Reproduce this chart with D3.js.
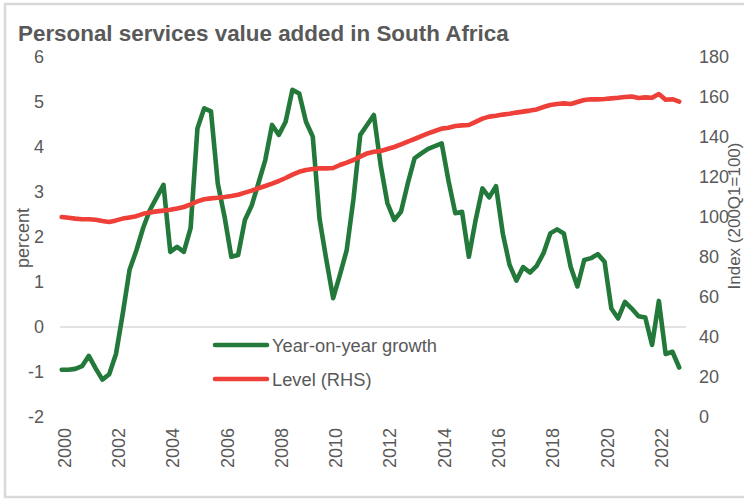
<!DOCTYPE html>
<html>
<head>
<meta charset="utf-8">
<script src="https://cdn.jsdelivr.net/npm/d3@7"></script>
<style>
  html, body { margin: 0; padding: 0; background: #fff; }
  svg { display: block; font-family: "Liberation Sans", Arial, sans-serif; }
</style>
</head>
<body>
<svg id="chart" width="744" height="501"></svg>
<script>
// ---- data (quarterly, 2000Q1 .. 2022Q4) ----
const startYear = 2000;
const yoyGrowth = [
  -0.95, -0.95, -0.93, -0.87, -0.64, -0.92, -1.17, -1.05,
  -0.60, 0.30, 1.27, 1.70, 2.20, 2.60, 2.88, 3.16,
  1.67, 1.78, 1.67, 2.20, 4.41, 4.86, 4.79, 3.19,
  2.45, 1.56, 1.60, 2.38, 2.70, 3.20, 3.71, 4.49,
  4.27, 4.56, 5.27, 5.19, 4.56, 4.23, 2.40, 1.49,
  0.64, 1.16, 1.71, 2.85, 4.27, 4.49, 4.71, 3.60,
  2.75, 2.38, 2.56, 3.19, 3.75, 3.86, 3.96, 4.02,
  4.08, 3.25, 2.53, 2.56, 1.56, 2.38, 3.08, 2.88,
  3.13, 2.08, 1.38, 1.03, 1.33, 1.21, 1.36, 1.64,
  2.08, 2.17, 2.08, 1.34, 0.90, 1.49, 1.53, 1.62,
  1.45, 0.41, 0.19, 0.56, 0.41, 0.24, 0.21, -0.40,
  0.58, -0.60, -0.55, -0.90
];
const levelIndex = [
  100.0, 99.6, 99.2, 98.9, 98.9, 98.6, 98.0, 97.5,
  98.3, 99.2, 99.8, 100.4, 101.6, 102.3, 102.8, 103.2,
  103.6, 104.2, 105.0, 106.3, 107.8, 108.9, 109.3, 109.6,
  110.0, 110.5, 111.1, 112.2, 113.2, 114.4, 115.5, 116.7,
  118.0, 119.5, 121.2, 122.6, 123.5, 124.0, 124.3, 124.3,
  124.5, 126.0, 127.2, 128.5, 130.2, 131.8, 132.6, 133.0,
  134.0, 135.0, 136.3, 137.7, 139.0, 140.4, 141.8, 143.0,
  144.2, 144.6, 145.5, 145.8, 146.0, 147.6, 149.2, 150.2,
  150.6, 151.2, 151.6, 152.2, 152.7, 153.2, 153.8, 155.0,
  156.0, 156.5, 156.8, 156.5, 157.5, 158.5, 158.9, 158.8,
  159.0, 159.3, 159.6, 160.0, 160.2, 159.5, 159.8, 159.6,
  161.5, 158.6, 158.9, 157.7
];
const leftTicks = [-2, -1, 0, 1, 2, 3, 4, 5, 6];
const rightTicks = [0, 20, 40, 60, 80, 100, 120, 140, 160, 180];
const yearLabels = [2000, 2002, 2004, 2006, 2008, 2010, 2012, 2014, 2016, 2018, 2020, 2022];
const seriesNames = ["Year-on-year growth", "Level (RHS)"];
const titleText = "Personal services value added in South Africa";

// ---- layout ----
const svg = d3.select("#chart");
const textColor = "#595959";
const green = "#22793a";
const red = "#ee4038";
const nCats = yoyGrowth.length + 1; // one trailing empty category

const x = d3.scaleLinear().domain([0, nCats - 1]).range([61.7, 686]);
const yL = d3.scaleLinear().domain([-2, 6]).range([417, 57]);
const yR = d3.scaleLinear().domain([0, 180]).range([417, 57]);

// outer frame
svg.append("rect")
  .attr("x", 5).attr("y", 4).attr("width", 760).attr("height", 493)
  .attr("fill", "none").attr("stroke", "#d9d9d9").attr("stroke-width", 2.5);

// title
svg.append("text")
  .attr("x", 18).attr("y", 40.5)
  .attr("fill", textColor)
  .attr("font-size", "22.4px").attr("font-weight", "bold")
  .text(titleText);

// zero gridline
svg.append("line")
  .attr("x1", x(0) - 1.5).attr("x2", x(nCats - 1))
  .attr("y1", yL(0)).attr("y2", yL(0))
  .attr("stroke", "#d9d9d9").attr("stroke-width", 1.3);

// left axis
const gL = svg.append("g").attr("transform", "translate(44,0)")
  .call(d3.axisLeft(yL).tickValues(leftTicks).tickSize(0).tickPadding(0).tickFormat(d => String(d)));
gL.select(".domain").remove();
gL.selectAll("text").attr("fill", textColor).attr("font-size", "18px")
  .attr("font-family", "Liberation Sans, Arial, sans-serif");

// right axis
const gR = svg.append("g").attr("transform", "translate(699,0)")
  .call(d3.axisRight(yR).tickValues(rightTicks).tickSize(0).tickPadding(0).tickFormat(d => String(d)));
gR.select(".domain").remove();
gR.selectAll("text").attr("fill", textColor).attr("font-size", "18px")
  .attr("font-family", "Liberation Sans, Arial, sans-serif");

// bottom axis (year labels, rotated)
const gB = svg.append("g").attr("transform", "translate(0,428)")
  .call(d3.axisBottom(x)
    .tickValues(yearLabels.map(yr => (yr - startYear) * 4))
    .tickFormat(i => String(startYear + i / 4))
    .tickSize(0).tickPadding(0));
gB.select(".domain").remove();
gB.selectAll(".tick text")
  .attr("fill", textColor).attr("font-size", "18px")
  .attr("font-family", "Liberation Sans, Arial, sans-serif")
  .attr("text-anchor", "end")
  .attr("dy", null)
  .attr("y", 0)
  .attr("dominant-baseline", "central")
  .attr("transform", "translate(2.5,0) rotate(-90)");

// axis titles
svg.append("text")
  .attr("transform", "translate(23,238) rotate(-90)")
  .attr("text-anchor", "middle").attr("dominant-baseline", "central")
  .attr("fill", textColor).attr("font-size", "18px")
  .text("percent");
svg.append("text")
  .attr("transform", "translate(734.5,216) rotate(-90)")
  .attr("text-anchor", "middle").attr("dominant-baseline", "central")
  .attr("fill", textColor).attr("font-size", "17px")
  .text("Index (200Q1=100)");

// lines
const lineG = d3.line().x((d, i) => x(i)).y(d => yL(d));
const lineR = d3.line().x((d, i) => x(i)).y(d => yR(d));

svg.append("path").datum(yoyGrowth)
  .attr("d", lineG).attr("fill", "none")
  .attr("stroke", green).attr("stroke-width", 4.6)
  .attr("stroke-linejoin", "round").attr("stroke-linecap", "round");

svg.append("path").datum(levelIndex)
  .attr("d", lineR).attr("fill", "none")
  .attr("stroke", red).attr("stroke-width", 4.6)
  .attr("stroke-linejoin", "round").attr("stroke-linecap", "round");

// legend
const legend = svg.append("g");
const legendItems = [
  { name: seriesNames[0], color: green, y: 345 },
  { name: seriesNames[1], color: red, y: 379 }
];
legendItems.forEach(it => {
  legend.append("line")
    .attr("x1", 215).attr("x2", 267).attr("y1", it.y).attr("y2", it.y)
    .attr("stroke", it.color).attr("stroke-width", 4.6).attr("stroke-linecap", "round");
  legend.append("text")
    .attr("x", 272).attr("y", it.y + 6.5)
    .attr("fill", textColor).attr("font-size", "18.3px")
    .text(it.name);
});
</script>
</body>
</html>
